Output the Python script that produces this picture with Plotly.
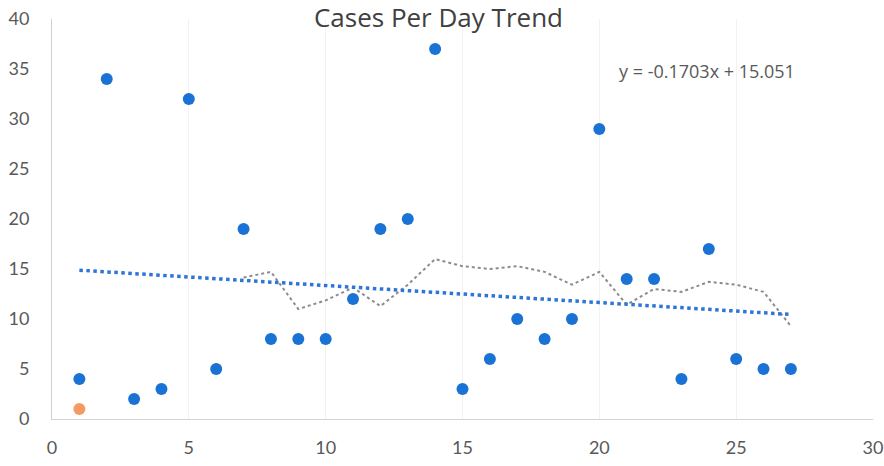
import numpy as np
import plotly.graph_objects as go

# Data
days = list(range(1, 28))
cases = [4, 34, 2, 3, 32, 5, 19, 8, 8, 8, 12, 19, 20, 37, 3, 6, 10, 8, 10, 29,
         14, 14, 4, 17, 6, 5, 5]
highlight_x = [1]
highlight_y = [1]
x_ticks = [0, 5, 10, 15, 20, 25, 30]
y_ticks = [0, 5, 10, 15, 20, 25, 30, 35, 40]
title_text = "Cases Per Day Trend"
ma_period = 7

# Linear trendline (least squares) from the data
slope, intercept = np.polyfit(days, cases, 1)
trend_x = [days[0], days[-1]]
trend_y = [slope * v + intercept for v in trend_x]
eq_text = f"y = {slope:.4f}x + {intercept:.3f}"

# Moving average (7 period) from the data
ma_x = days[ma_period - 1:]
ma_y = [float(np.mean(cases[i - ma_period + 1:i + 1])) for i in range(ma_period - 1, len(cases))]

fig = go.Figure()
fig.add_trace(go.Scatter(x=ma_x, y=ma_y, mode="lines",
                         line=dict(color="#8c8c8c", width=2, dash="dot"),
                         hoverinfo="skip", showlegend=False))
fig.add_trace(go.Scatter(x=trend_x, y=trend_y, mode="lines",
                         line=dict(color="#2e75d6", width=3.5, dash="dot"),
                         hoverinfo="skip", showlegend=False))
fig.add_trace(go.Scatter(x=days, y=cases, mode="markers",
                         marker=dict(color="#1a73d4", size=12),
                         showlegend=False))
fig.add_trace(go.Scatter(x=highlight_x, y=highlight_y, mode="markers",
                         marker=dict(color="#f59a62", size=12),
                         showlegend=False))

fig.add_annotation(x=0.688, y=0.87, xref="paper", yref="paper",
                   text=eq_text, showarrow=False, xanchor="left", yanchor="middle",
                   font=dict(family="Open Sans, Lato, sans-serif", size=18, color="#595959"))

fig.update_layout(
    width=884, height=466,
    margin=dict(l=52, r=11, t=19, b=47, autoexpand=False),
    paper_bgcolor="white", plot_bgcolor="white",
    title=dict(text=title_text, x=0.496, xanchor="center", y=0.962, yanchor="middle",
               font=dict(family="Open Sans, Lato, sans-serif", size=26, color="#404040")),
    font=dict(family="Lato, Open Sans, sans-serif", color="#595959"),
)
fig.update_xaxes(range=[0, 30], tickvals=x_ticks, showgrid=True, gridcolor="#f2f2f2",
                 zeroline=False, showline=True, linecolor="#d4d4d4", linewidth=1,
                 automargin=False,
                 ticks="", tickfont=dict(size=18, color="#595959"), ticklabelstandoff=12)
fig.update_yaxes(range=[0, 40], tickvals=y_ticks, showgrid=False,
                 zeroline=False, showline=True, linecolor="#cfcfcf", linewidth=1,
                 automargin=False,
                 ticks="", tickfont=dict(size=18, color="#595959"), ticklabelstandoff=18)

fig.write_html("out.html", config={"displayModeBar": False},
               post_script="document.body.style.margin='0';document.body.style.overflow='hidden';")
